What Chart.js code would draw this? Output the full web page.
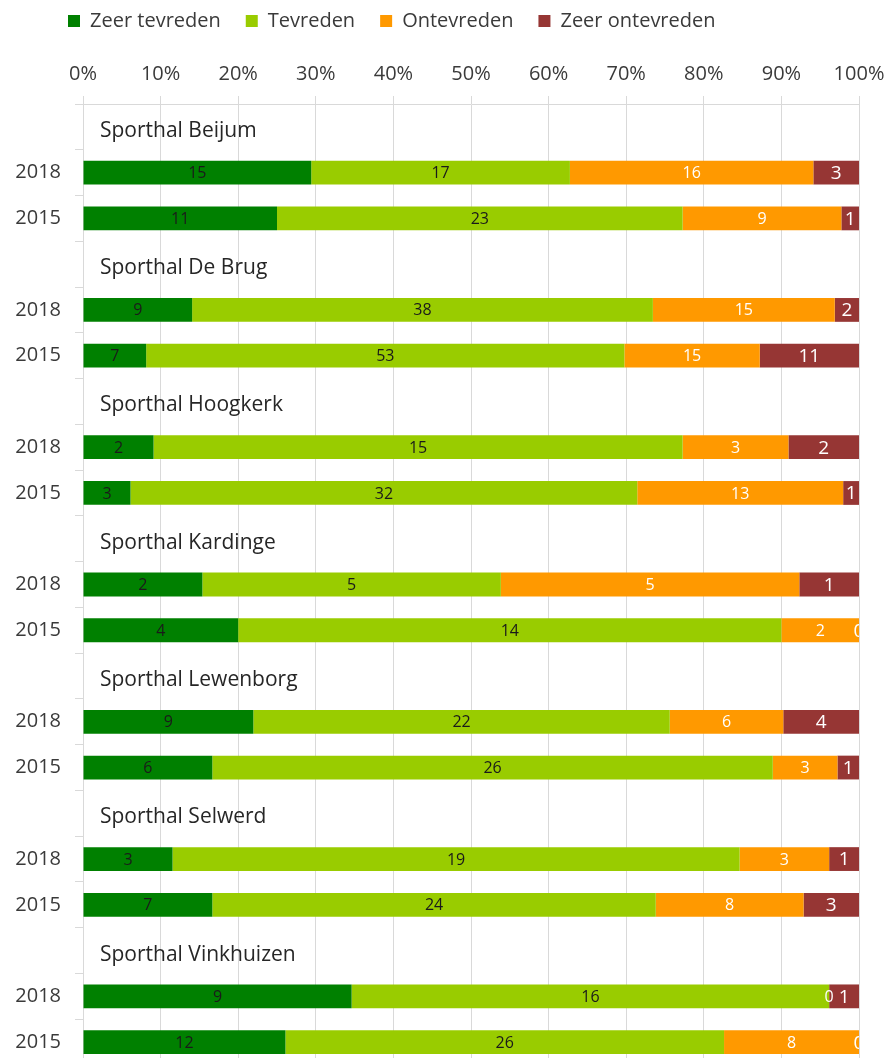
<!DOCTYPE html>
<html>
<head>
<meta charset="utf-8">
<script src="https://cdn.jsdelivr.net/npm/chart.js@4/dist/chart.umd.min.js"></script>
<style>
html, body { margin: 0; padding: 0; background: #ffffff; overflow: hidden; }
#wrap { width: 890px; height: 1058px; overflow: hidden; }
</style>
</head>
<body>
<div id="wrap"><canvas id="chartCanvas" width="890" height="1091"></canvas></div>
<script>
// Sporthallen (each gets a title row, then a 2018 and a 2015 row)
var halls = ['Sporthal Beijum', 'Sporthal De Brug', 'Sporthal Hoogkerk', 'Sporthal Kardinge',
             'Sporthal Lewenborg', 'Sporthal Selwerd', 'Sporthal Vinkhuizen'];
var years = ['2018', '2015'];

// counts per row, order: hall1 2018, hall1 2015, hall2 2018, ...
var zeerTevreden   = [15, 11,  9,  7,  2,  3, 2,  4,  9,  6,  3,  7,  9, 12];
var tevreden       = [17, 23, 38, 53, 15, 32, 5, 14, 22, 26, 19, 24, 16, 26];
var ontevreden     = [16,  9, 15, 15,  3, 13, 5,  2,  6,  3,  3,  8,  0,  8];
var zeerOntevreden = [ 3,  1,  2, 11,  2,  1, 1,  0,  4,  1,  1,  3,  1,  0];

var seriesNames = ['Zeer tevreden', 'Tevreden', 'Ontevreden', 'Zeer ontevreden'];
var xTicks = [0, 10, 20, 30, 40, 50, 60, 70, 80, 90, 100];

var colors = ['#008000', '#99cc00', '#ff9900', '#963634'];
var labelColors = ['#1a1a1a', '#1a1a1a', '#ffffff', '#ffffff'];
var labelSizes = [16, 16, 16, 19];
var fontName = '"Open Sans", "Noto Sans", sans-serif';

// Build category labels: '' for the title row, then the years
var categories = [];
for (var h = 0; h < halls.length; h++) {
    categories.push('');
    for (var y = 0; y < years.length; y++) categories.push(years[y]);
}

// Function to turn counts into percentage rows with gaps for title rows
function buildRows(counts) {
    var pct = [], raw = [];
    for (var i = 0; i < zeerTevreden.length; i++) {
        if (i % 2 === 0) { pct.push(null); raw.push(null); }
        var total = zeerTevreden[i] + tevreden[i] + ontevreden[i] + zeerOntevreden[i];
        pct.push(counts[i] / total * 100);
        raw.push(counts[i]);
    }
    return { pct: pct, raw: raw };
}

var allCounts = [zeerTevreden, tevreden, ontevreden, zeerOntevreden];
var datasets = [];
for (var s = 0; s < allCounts.length; s++) {
    var rows = buildRows(allCounts[s]);
    datasets.push({
        label: seriesNames[s],
        data: rows.pct,
        counts: rows.raw,
        backgroundColor: colors[s],
        borderWidth: 0,
        barPercentage: 0.52,
        categoryPercentage: 1.0
    });
}

// Plugin: count labels in the middle of each segment
var countLabels = {
    id: 'countLabels',
    afterDatasetsDraw: function(chart) {
        var ctx = chart.ctx;
        var area = chart.chartArea;
        ctx.save();
        ctx.beginPath();
        ctx.rect(area.left, area.top, area.right - area.left, area.bottom - area.top);
        ctx.clip();
        ctx.textAlign = 'center';
        ctx.textBaseline = 'middle';
        chart.data.datasets.forEach(function(ds, di) {
            var meta = chart.getDatasetMeta(di);
            ctx.fillStyle = labelColors[di];
            ctx.font = labelSizes[di] + 'px ' + fontName;
            meta.data.forEach(function(el, i) {
                var v = ds.counts[i];
                if (v === null || v === undefined) return;
                ctx.fillText(String(v), (el.x + el.base) / 2, el.y + 1);
            });
        });
        ctx.restore();
    }
};

// Plugin: hall names on the empty title rows, and nudge the legend
var hallTitles = {
    id: 'hallTitles',
    afterLayout: function(chart) {
        chart.legend.left += 43;
        chart.legend.top -= 11;
    },
    afterDraw: function(chart) {
        var ctx = chart.ctx;
        var yScale = chart.scales.y;
        ctx.save();
        ctx.fillStyle = '#262626';
        ctx.font = '21px ' + fontName;
        ctx.textAlign = 'left';
        ctx.textBaseline = 'middle';
        for (var i = 0; i < halls.length; i++) {
            var yy = yScale.getPixelForValue(i * 3);
            ctx.fillText(halls[i], chart.chartArea.left + 17, yy + 4);
        }
        ctx.restore();
    }
};

var ctx = document.getElementById('chartCanvas').getContext('2d');
var chart = new Chart(ctx, {
    type: 'bar',
    data: { labels: categories, datasets: datasets },
    options: {
        indexAxis: 'y',
        responsive: false,
        animation: false,
        layout: { padding: { left: 0, right: 31, top: -3, bottom: 1 } },
        plugins: {
            legend: {
                position: 'top',
                align: 'start',
                labels: {
                    boxWidth: 12,
                    boxHeight: 12,
                    padding: 25,
                    color: '#3a3a3a',
                    font: { family: fontName, size: 20 }
                }
            },
            tooltip: { enabled: false }
        },
        scales: {
            x: {
                position: 'top',
                stacked: true,
                min: 0,
                max: 100,
                afterBuildTicks: function(scale) {
                    scale.ticks = xTicks.map(function(v) { return { value: v }; });
                },
                afterFit: function(scale) {
                    scale.paddingRight = 0;
                    scale.paddingLeft = 0;
                },
                ticks: {
                    padding: 10,
                    color: '#3a3a3a',
                    font: { family: fontName, size: 20 },
                    callback: function(v) { return v + '%'; }
                },
                grid: { color: '#d9d9d9', lineWidth: 1, tickLength: 8 },
                border: { color: '#d9d9d9' }
            },
            y: {
                stacked: true,
                afterFit: function(scale) { scale.width = 83; },
                ticks: {
                    padding: 14,
                    color: '#3a3a3a',
                    font: { family: fontName, size: 20 }
                },
                grid: { drawOnChartArea: false, color: '#d9d9d9', tickLength: 8 },
                border: { color: '#d9d9d9' }
            }
        }
    },
    plugins: [countLabels, hallTitles]
});
</script>
</body>
</html>
